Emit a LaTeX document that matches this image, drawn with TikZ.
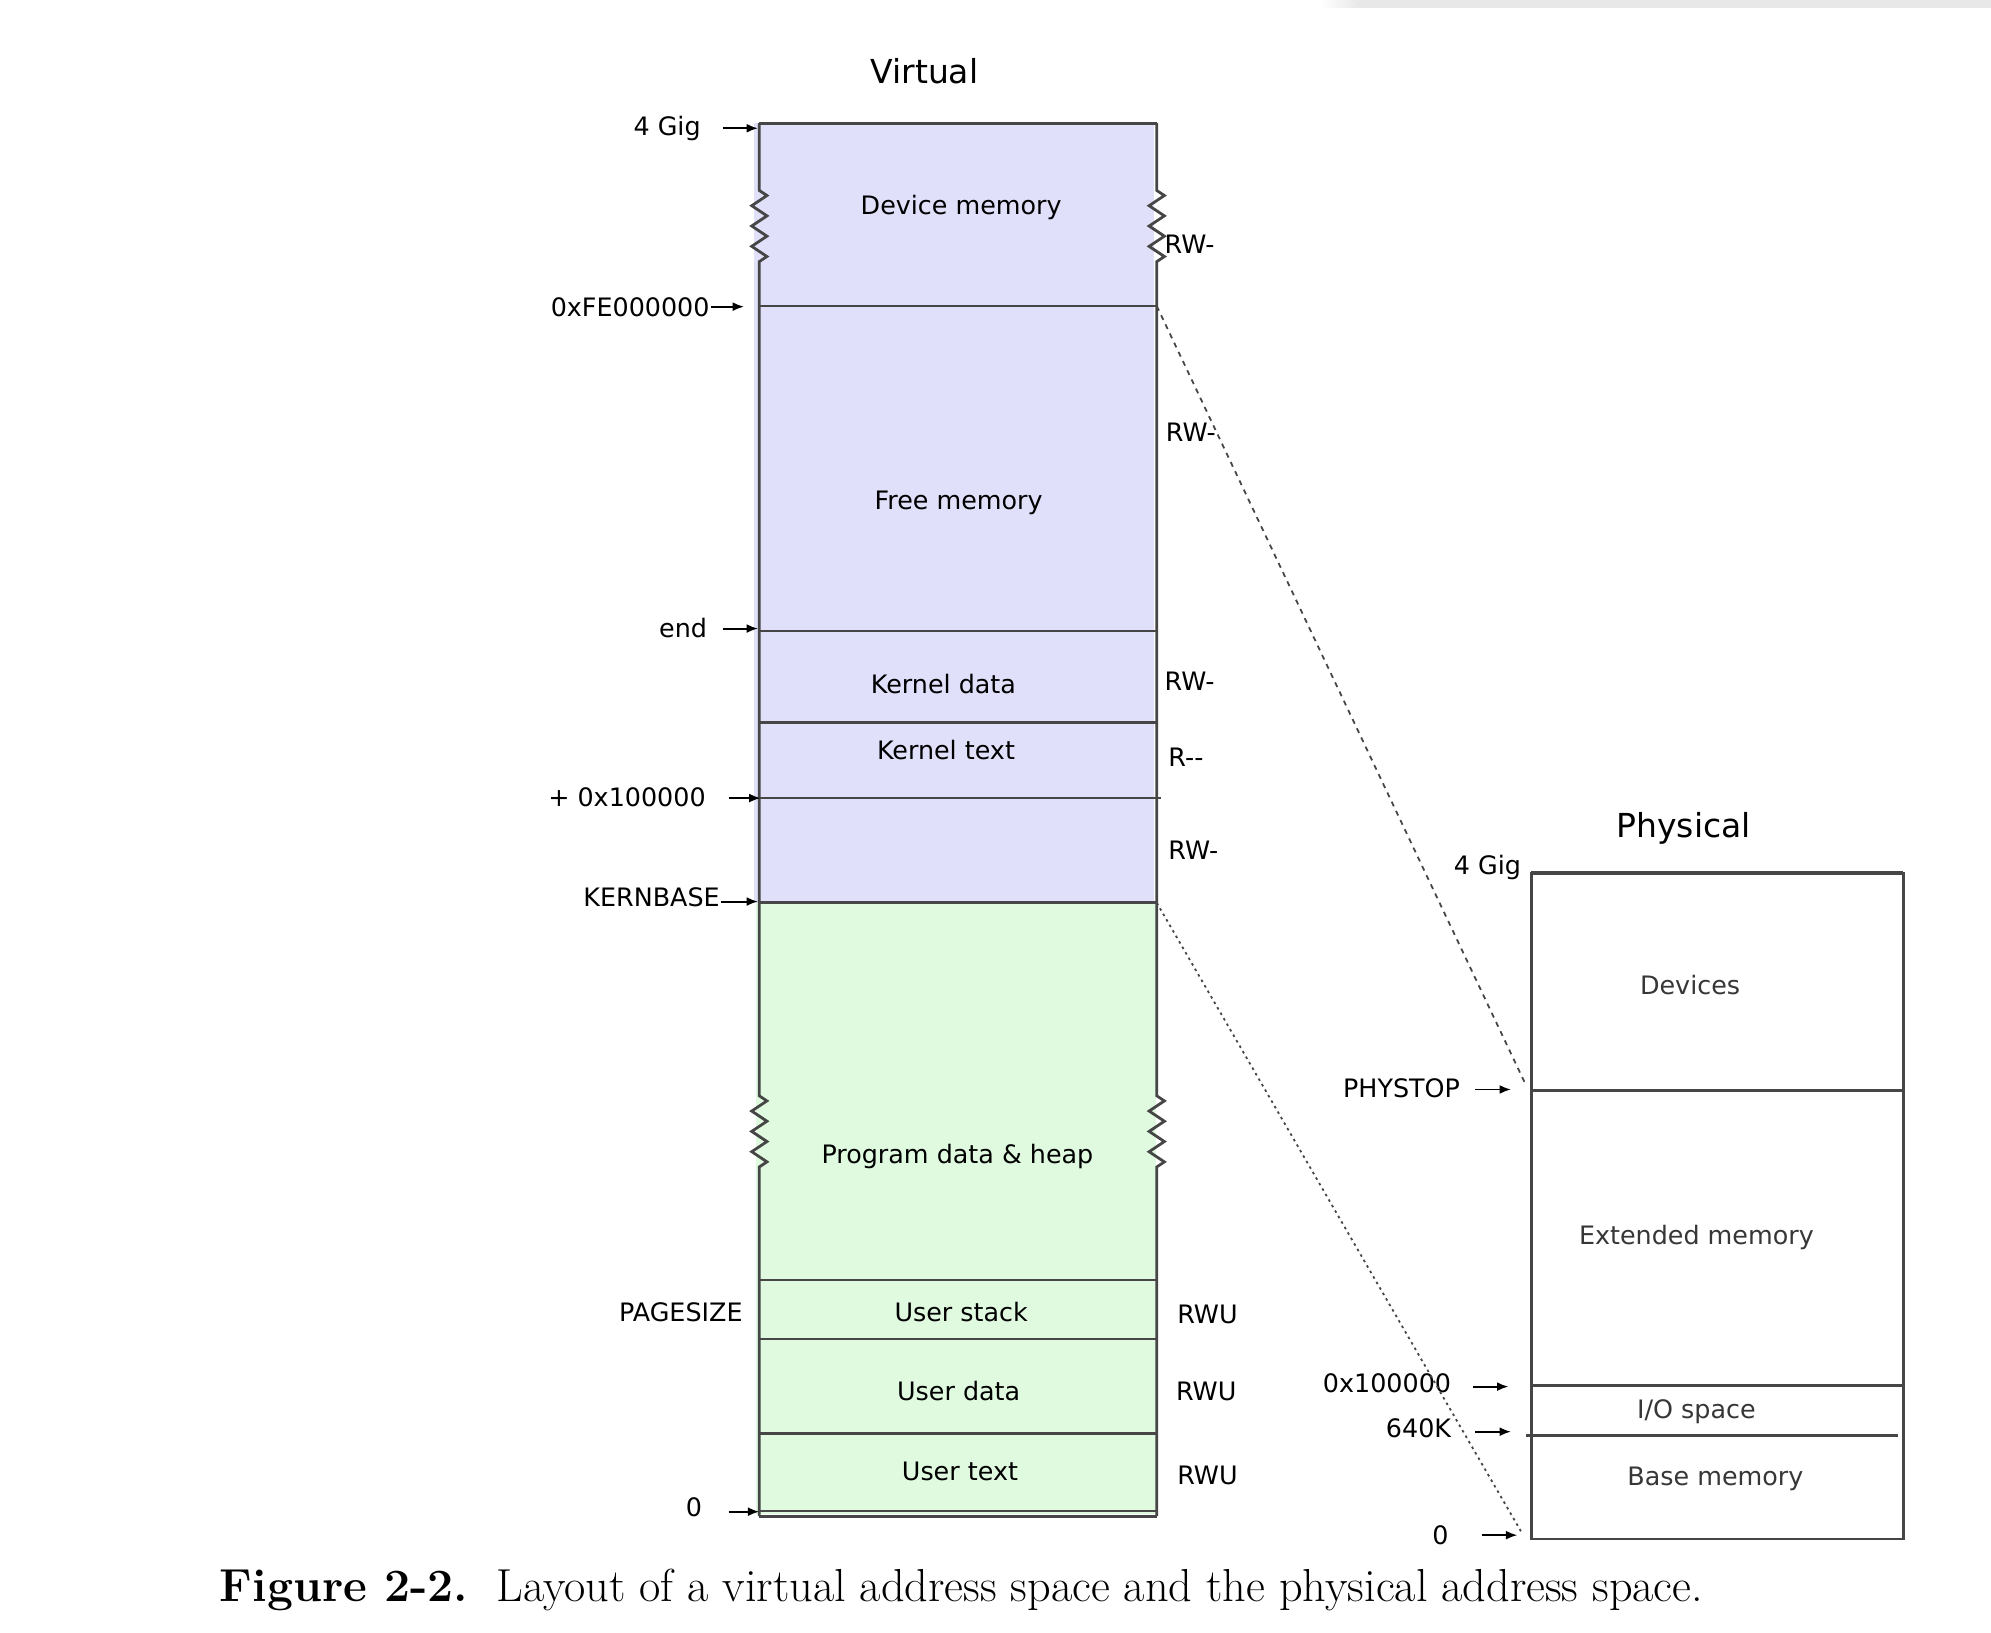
\documentclass[tikz,border=0pt]{standalone}
\usepackage{fontspec}
\newfontfamily\dv{DejaVu Sans}
\usetikzlibrary{arrows.meta,decorations.pathmorphing}
\definecolor{vblue}{RGB}{224,224,250}
\definecolor{vgreen}{RGB}{224,250,224}
\definecolor{edge}{RGB}{70,70,70}
\definecolor{ptext}{RGB}{55,55,55}
\tikzset{
  lbl/.style={font=\dv\fontsize{20}{24}\selectfont, inner sep=0pt, text height=15pt, text depth=4pt, yshift=-1.5pt},
  ttl/.style={font=\dv\fontsize{26}{30}\selectfont, inner sep=0pt},
  plbl/.style={lbl, text=ptext},
  sep/.style={draw=edge, line width=2.2pt},
  border/.style={draw=edge, line width=2.2pt},
  ptr/.style={draw=black, line width=1.5pt, -{Latex[length=9pt,width=7pt]}},
  zz/.style={decoration={zigzag, segment length=16pt, amplitude=6pt}},
  mapdash/.style={draw=edge, line width=1.4pt, dash pattern=on 4pt off 4pt},
  mapdot/.style={draw=edge, line width=1.4pt, dash pattern=on 2pt off 3pt}
}
\begin{document}
\begin{tikzpicture}[x=1pt,y=-1pt]
\useasboundingbox (0,0) rectangle (1568,1286);
\fill[white] (0,0) rectangle (1568,1286);
\shade[left color=white, right color=gray!18] (1040,0) rectangle (1070,6);
\fill[gray!18] (1070,0) rectangle (1568,6);

% ---------- Virtual ----------
\node[ttl] (vtitle) at (728,56) {Virtual};
\fill[vblue] (594,97) rectangle (909,711);
\fill[vgreen] (595,711) rectangle (910,1192);

\coordinate (vfeR) at (911,241);
\coordinate (vkbR) at (911,711);

\draw[sep] (598,97) -- (911,97);
\draw[sep] (598,241) -- (911,241);
\draw[sep] (598,497) -- (911,497);
\draw[sep] (598,569) -- (911,569);
\draw[sep] (598,628.5) -- (914,628.5);
\draw[sep] (598,711) -- (911,711);
\draw[sep] (598,1008) -- (911,1008);
\draw[sep] (598,1054.5) -- (911,1054.5);
\draw[sep] (598,1129) -- (911,1129);
\draw[sep] (598,1190) -- (911,1190);
\draw[sep] (598,1194) -- (911,1194);

\draw[border,zz] (598,97) -- (598,150) decorate{-- (598,208)} -- (598,863) decorate{-- (598,922)} -- (598,1194);
\draw[border,zz] (911,97) -- (911,150) decorate{-- (911,208)} -- (911,863) decorate{-- (911,922)} -- (911,1194);

\node[lbl] (tdev) at (757,162) {Device memory};
\node[lbl] (tfree) at (755,394) {Free memory};
\node[lbl] (tkd) at (743,539) {Kernel data};
\node[lbl] (tkt) at (745,591) {Kernel text};
\node[lbl] (tprog) at (754,909) {Program data \& heap};
\node[lbl] (tus) at (757,1034) {User stack};
\node[lbl] (tud) at (755,1096) {User data};
\node[lbl] (tut) at (756,1159) {User text};

% left labels
\node[lbl,anchor=east] (l4g) at (552,100) {4 Gig};
\node[lbl,anchor=east] (lfe) at (559,242) {0xFE000000};
\node[lbl,anchor=east] (lend) at (557,495) {end};
\node[lbl,anchor=east] (lpx) at (556,628) {+ 0x100000};
\node[lbl,anchor=east] (lkb) at (567,707) {KERNBASE};
\node[lbl,anchor=east] (lps) at (585,1034) {PAGESIZE};
\node[lbl,anchor=east] (l0) at (553,1187) {0};

\coordinate (a4g) at (597,101);
\coordinate (afe) at (586,241.5);
\coordinate (aend) at (597,495);
\coordinate (apx) at (599,628.5);
\coordinate (akb) at (597,710);
\coordinate (a0) at (598,1190.5);
\draw[ptr] (569,101) -- (a4g);
\draw[ptr] (560,241.5) -- (afe);
\draw[ptr] (569,495) -- (aend);
\draw[ptr] (574,628.5) -- (apx);
\draw[ptr] (568,710) -- (akb);
\draw[ptr] (574,1190.5) -- (a0);

% right labels
\node[lbl,anchor=west] (r1) at (917,193) {RW-};
\node[lbl,anchor=west] (r2) at (918,341) {RW-};
\node[lbl,anchor=west] (r3) at (917,537) {RW-};
\node[lbl,anchor=west] (r4) at (920,597) {R--};
\node[lbl,anchor=west] (r5) at (920,670) {RW-};
\node[lbl,anchor=west] (r6) at (927,1035) {RWU};
\node[lbl,anchor=west] (r7) at (926,1096) {RWU};
\node[lbl,anchor=west] (r8) at (927,1162) {RWU};

% ---------- Physical ----------
\node[ttl] (ptitle) at (1326,652) {Physical};
\coordinate (pphys) at (1201,853);
\coordinate (pzero) at (1199,1208);
\draw[edge, line width=3pt] (1206,687.5) -- (1499,687.5);
\draw[border] (1206,687) -- (1206,1212) -- (1499,1212) -- (1499,687);
\draw[sep] (1206,859) -- (1499,859);
\draw[sep] (1206,1091) -- (1499,1091);
\draw[sep] (1202,1130.5) -- (1495,1130.5);

\node[plbl] (pdev) at (1331,776) {Devices};
\node[plbl] (pext) at (1336,973) {Extended memory};
\node[plbl] (pio) at (1336,1110) {I/O space};
\node[plbl] (pbase) at (1351,1163) {Base memory};

\node[lbl,anchor=east] (p4g) at (1198,682) {4 Gig};
\node[lbl,anchor=east] (pps) at (1150,857) {PHYSTOP};
\node[lbl,anchor=east] (p1m) at (1143,1090) {0x100000};
\node[lbl,anchor=east] (p640) at (1143,1125) {640K};
\node[lbl,anchor=east] (p0) at (1141,1209) {0};

\coordinate (bps) at (1190,858);
\coordinate (b1m) at (1188,1092);
\coordinate (b640) at (1190,1127.5);
\coordinate (b0) at (1195,1209);
\draw[ptr] (1162,858) -- (bps);
\draw[ptr] (1160,1092) -- (b1m);
\draw[ptr] (1162,1127.5) -- (b640);
\draw[ptr] (1167,1209) -- (b0);

% mapping lines
\draw[mapdash] (vfeR) -- (pphys);
\draw[mapdot] (vkbR) -- (pzero);

% caption
\node[anchor=base west, inner sep=0pt] (cap) at (173,1261)
  {\resizebox{1168pt}{!}{\fontsize{34}{40}\selectfont\textbf{Figure 2-2.}\ \ Layout of a virtual address space and the physical address space.}};
\end{tikzpicture}
\end{document}
